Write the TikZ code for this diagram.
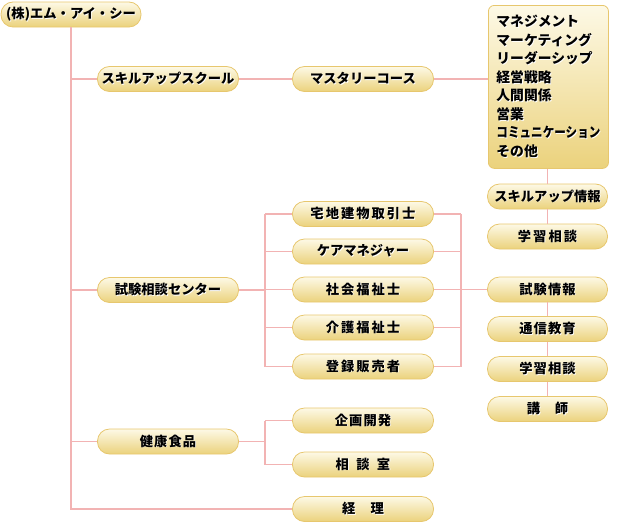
\documentclass[tikz,border=0pt]{standalone}
\usepackage{fontspec}
\setmainfont{Noto Sans CJK JP}
\usetikzlibrary{positioning}
\definecolor{linkpink}{HTML}{F2B3B3}
\definecolor{boxtop}{HTML}{FDF9E6}
\definecolor{boxbot}{HTML}{EBD27C}
\definecolor{boxrim}{HTML}{E7C76E}
% label with a faint white shadow
\newcommand{\lbl}[1]{\rlap{\kern0.8pt\raisebox{-0.8pt}{\color{white}#1}}#1}
\newcommand{\spaced}[1]{{\addfontfeature{LetterSpace=15}#1}}
\newcommand{\loose}[1]{{\addfontfeature{LetterSpace=8}#1}}

\begin{document}
\begin{tikzpicture}[x=1pt,y=1pt,
  pill/.style={draw=boxrim,line width=0.8pt,top color=boxtop,bottom color=boxbot,
    rounded corners=12pt,minimum width=141pt,minimum height=25pt,inner sep=0pt,
    font=\bfseries\fontsize{13.3}{15}\selectfont},
  tab/.style={pill,minimum width=120pt},
  link/.style={draw=linkpink,line width=1.5pt}]
  \useasboundingbox (0,0) rectangle (620,-522);
  % the company
  \node[pill,minimum width=140pt] (root) at (71,-14.5) {\lbl{(株)エム・アイ・シー}};
  % divisions
  \node[pill] (skill)  at (168,-79)    {\lbl{スキルアップスクール}};
  \node[pill] (exam)   at (168,-290)   {\lbl{試験相談センター}};
  \node[pill] (health) at (168,-441.5) {\lbl{\loose{健康食品}}};
  % sections
  \node[pill] (master)  at (363,-79)    {\lbl{マスタリーコース}};
  \node[pill] (realty)  at (363,-214)   {\lbl{\spaced{宅地建物取引士}}};
  \node[pill] (care)    at (363,-251.5) {\lbl{ケアマネジャー}};
  \node[pill] (social)  at (363,-289.5) {\lbl{\spaced{社会福祉士}}};
  \node[pill] (nursing) at (363,-327.5) {\lbl{\spaced{介護福祉士}}};
  \node[pill] (drug)    at (363,-366.5) {\lbl{\spaced{登録販売者}}};
  \node[pill] (plan)    at (363,-420.5) {\lbl{\loose{企画開発}}};
  \node[pill] (consult) at (363,-464.5) {\lbl{相\hspace{0.55em}談\hspace{0.55em}室}};
  \node[pill] (account) at (363,-509)   {\lbl{経\hspace{1.15em}理}};
  % course contents
  \node[draw=boxrim,line width=0.8pt,top color=boxtop,bottom color=boxbot,rounded corners=6pt,
    minimum width=120pt,minimum height=163pt,inner xsep=8pt,align=left,anchor=north west,
    font=\bfseries\fontsize{13.8}{18.5}\selectfont] (course) at (488,-5)
    {\lbl{マネジメント}\\ \lbl{マーケティング}\\ \lbl{リーダーシップ}\\ \lbl{経営戦略}\\
     \lbl{人間関係}\\ \lbl{営業}\\ \lbl{\scalebox{0.84}[1]{コミュニケーション}}\\ \lbl{その他}\hspace*{52pt}};
  % services
  \node[tab] (skillinfo) at (547.5,-196.5) {\lbl{スキルアップ情報}};
  \node[tab] (study1)    at (547.5,-236.5) {\lbl{\spaced{学習相談}}};
  \node[tab] (examinfo)  at (547.5,-289.5) {\lbl{\loose{試験情報}}};
  \node[tab] (corresp)   at (547.5,-329)   {\lbl{\loose{通信教育}}};
  \node[tab] (study2)    at (547.5,-369)   {\lbl{\loose{学習相談}}};
  \node[tab] (lecturer)  at (547.5,-409)   {\lbl{講\hspace{1.1em}師}};
  % trunk
  \draw[link] (root.south) |- (account.west);
  \foreach \d in {skill,exam,health}
    \draw[link] (root.south |- \d) -- (\d.west);
  % skill-up school
  \draw[link] (skill.east) -- (master.west);
  \draw[link] (master.east) -- (master.east -| course.west);
  \draw[link] (course.south -| skillinfo) -- (skillinfo.north);
  \draw[link] (skillinfo.south) -- (study1.north);
  % exam centre brackets
  \coordinate (lbr) at (265,0);
  \coordinate (rbr) at (461,0);
  \draw[link] (exam.east) -- (exam.east -| lbr);
  \draw[link] (realty.west -| lbr) -- (drug.west -| lbr);
  \draw[link] (realty.east -| rbr) -- (drug.east -| rbr);
  \foreach \s in {realty,care,social,nursing,drug} {
    \draw[link] (\s.west -| lbr) -- (\s.west);
    \draw[link] (\s.east) -- (\s.east -| rbr);
  }
  \draw[link] (social.east -| rbr) -- (examinfo.west);
  \draw[link] (examinfo.south) -- (corresp.north);
  \draw[link] (corresp.south) -- (study2.north);
  \draw[link] (study2.south) -- (lecturer.north);
  % health food bracket
  \draw[link] (health.east) -- (health.east -| lbr);
  \draw[link] (plan.west -| lbr) -- (consult.west -| lbr);
  \foreach \s in {plan,consult}
    \draw[link] (\s.west -| lbr) -- (\s.west);
\end{tikzpicture}
\end{document}
